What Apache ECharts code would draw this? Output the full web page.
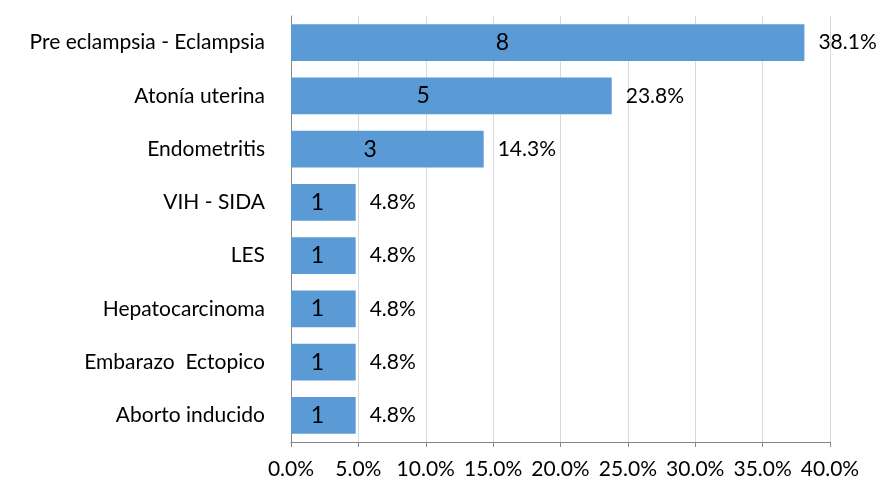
<!DOCTYPE html>
<html>
<head>
    <meta charset="utf-8">
    <title>Causas</title>
    <script src="https://cdn.jsdelivr.net/npm/echarts@6/dist/echarts.min.js"></script>
</head>
<body style="margin:0">
    <div id="main" style="width: 883px;height:486px;"></div>
    <script type="text/javascript">
        var categories = ['Pre eclampsia - Eclampsia', 'Atonía uterina', 'Endometritis', 'VIH - SIDA',
            'LES', 'Hepatocarcinoma', 'Embarazo  Ectopico', 'Aborto inducido'];
        var counts = [8, 5, 3, 1, 1, 1, 1, 1];
        var percents = [38.1, 23.8, 14.3, 4.8, 4.8, 4.8, 4.8, 4.8];

        var myChart = echarts.init(document.getElementById('main'));
        var font = 'Lato';

        var option = {
            animation: false,
            grid: { left: 291, right: 53, top: 16, bottom: 44 },
            xAxis: [{
                type: 'value',
                min: 0,
                max: 40,
                interval: 5,
                axisLine: { show: true, lineStyle: { color: '#868686' } },
                axisTick: { show: true, length: 5, lineStyle: { color: '#868686' } },
                axisLabel: {
                    margin: 17,
                    color: '#000',
                    fontFamily: font,
                    fontSize: 21,
                    formatter: function (v) { return v.toFixed(1) + '%'; }
                },
                splitLine: { lineStyle: { color: '#d9d9d9', width: 1 } }
            }, {
                // hidden scale for the count labels
                type: 'value',
                min: 0,
                max: 10.2,
                show: false
            }],
            yAxis: {
                type: 'category',
                inverse: true,
                data: categories,
                axisLine: { lineStyle: { color: '#868686' } },
                axisTick: { length: 5, lineStyle: { color: '#868686' } },
                axisLabel: {
                    margin: 26,
                    color: '#000',
                    fontFamily: font,
                    fontSize: 21
                }
            },
            series: [{
                name: 'Porcentaje',
                type: 'bar',
                xAxisIndex: 0,
                data: percents,
                barCategoryGap: '31%',
                itemStyle: { color: '#5b9bd5' },
                label: {
                    show: true,
                    position: 'right',
                    distance: 14,
                    color: '#000',
                    fontFamily: font,
                    fontSize: 21,
                    formatter: function (p) { return p.value.toFixed(1) + '%'; }
                },
                z: 2
            }, {
                name: 'Casos',
                type: 'bar',
                xAxisIndex: 1,
                data: counts,
                barGap: '-100%',
                barCategoryGap: '31%',
                itemStyle: { color: 'rgba(0,0,0,0)' },
                label: {
                    show: true,
                    position: 'inside',
                    color: '#000',
                    fontFamily: font,
                    fontSize: 23
                },
                z: 3
            }]
        };

        myChart.setOption(option);
    </script>
</body>
</html>
